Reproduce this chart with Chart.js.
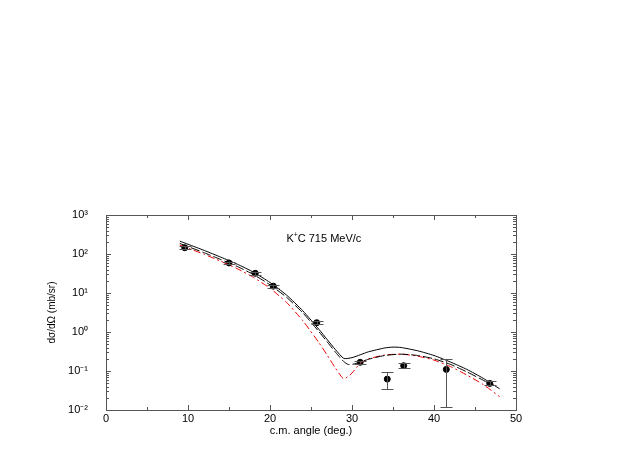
<!DOCTYPE html>
<html lang="en">
  <head>
    <meta charset="UTF-8" />
    <title>K+C 715 MeV/c</title>
    <script src="https://cdn.jsdelivr.net/npm/chart.js"></script>
    <style>
      body { margin: 0; background: #ffffff; }
      .wrap { position: relative; width: 623px; height: 463px; }
    </style>
  </head>
  <body>
    <div class="wrap"><canvas id="xsec"></canvas></div>
    <script>
      // measured points
      const dataAngle = [9.6, 15.0, 18.2, 20.4, 25.7, 31.0, 34.3, 36.3, 41.5, 46.8];
      const dataValue = [145, 59, 32, 15, 1.73, 0.167, 0.062, 0.137, 0.11, 0.048];
      const dataLow = [132, 54, 29, 13.6, 1.57, 0.155, 0.034, 0.117, 0.0117, 0.043];
      const dataHigh = [158, 64, 35, 16.5, 1.9, 0.18, 0.093, 0.158, 0.204, 0.054];

      // calculations
      const solidAngle = [9, 10, 12, 14, 16, 18, 20, 22, 24, 26, 27, 28, 29, 30, 31, 32, 34, 35, 36, 38, 40, 42, 44, 46, 48];
      const solidValue = [214, 178, 123, 83, 55, 34, 18.6, 8.9, 3.5, 1.15, 0.63, 0.35, 0.21, 0.22, 0.26, 0.31, 0.39, 0.41, 0.4, 0.33, 0.25, 0.17, 0.11, 0.065, 0.035];

      const dashAngle = [9, 10, 12, 14, 16, 18, 20, 22, 24, 26, 27, 28, 29, 29.5, 30, 31, 32, 34, 36, 38, 40, 42, 44, 46, 47];
      const dashValue = [186, 155, 107, 72, 48, 29.5, 16.2, 7.8, 3.1, 1.0, 0.55, 0.3, 0.174, 0.148, 0.148, 0.166, 0.2, 0.25, 0.27, 0.25, 0.205, 0.148, 0.095, 0.058, 0.045];

      const redAngle = [9, 10, 12, 14, 16, 18, 20, 22, 24, 26, 27, 28, 29, 30, 31, 32, 34, 36, 38, 40, 42, 44, 46, 48];
      const redValue = [170, 141, 98, 65, 42, 25, 13.2, 5.8, 1.95, 0.52, 0.25, 0.117, 0.063, 0.089, 0.158, 0.204, 0.257, 0.27, 0.24, 0.19, 0.13, 0.079, 0.045, 0.022];

      const yTickValues = [0.01, 0.1, 1, 10, 100, 1000];
      const yTickLabels = ["10\u207B\u00B2", "10\u207B\u00B9", "10\u2070", "10\u00B9", "10\u00B2", "10\u00B3"];
      const xTickValues = [0, 10, 20, 30, 40, 50];

      const pts = (xs, ys) => xs.map((x, i) => ({ x: x, y: ys[i] }));
      const FONT = "'Liberation Sans', Arial, sans-serif";

      // frame, inward ticks, error bars, label
      const decorations = {
        id: "decorations",
        afterDatasetsDraw(chart) {
          const ctx = chart.ctx;
          const a = chart.chartArea;
          const xs = chart.scales.x;
          const ys = chart.scales.y;
          ctx.save();
          ctx.strokeStyle = "#555555";
          ctx.lineWidth = 1;
          ctx.strokeRect(a.left + 0.5, a.top + 0.5, a.right - a.left, a.bottom - a.top);

          ctx.beginPath();
          for (let v = 0; v <= 50; v += 5) {
            const px = Math.round(xs.getPixelForValue(v)) + 0.5;
            const len = v % 10 === 0 ? 5 : 3;
            ctx.moveTo(px, a.bottom);
            ctx.lineTo(px, a.bottom - len);
            ctx.moveTo(px, a.top);
            ctx.lineTo(px, a.top + len);
          }
          for (let d = -2; d <= 2; d++) {
            for (let m = 1; m <= 9; m++) {
              const py = Math.round(ys.getPixelForValue(m * Math.pow(10, d))) + 0.5;
              const len = m === 1 ? 5 : 3;
              ctx.moveTo(a.left, py);
              ctx.lineTo(a.left + len, py);
              ctx.moveTo(a.right, py);
              ctx.lineTo(a.right - len, py);
            }
          }
          ctx.stroke();

          ctx.strokeStyle = "#555555";
          ctx.beginPath();
          dataAngle.forEach((ang, i) => {
            const px = Math.round(xs.getPixelForValue(ang)) + 0.5;
            const lo = ys.getPixelForValue(dataLow[i]);
            const hi = ys.getPixelForValue(dataHigh[i]);
            ctx.moveTo(px, lo);
            ctx.lineTo(px, hi);
            ctx.moveTo(px - 6, Math.round(lo) + 0.5);
            ctx.lineTo(px + 6, Math.round(lo) + 0.5);
            ctx.moveTo(px - 6, Math.round(hi) + 0.5);
            ctx.lineTo(px + 6, Math.round(hi) + 0.5);
          });
          ctx.stroke();

          ctx.fillStyle = "#000000";
          ctx.font = "11px " + FONT;
          ctx.textBaseline = "middle";
          const lx = xs.getPixelForValue(22.0);
          const ly = ys.getPixelForValue(240);
          ctx.fillText("K", lx, ly);
          const kw = ctx.measureText("K").width;
          ctx.font = "7px " + FONT;
          ctx.fillText("+", lx + kw, ly - 4);
          ctx.font = "11px " + FONT;
          ctx.fillText("C 715 MeV/c", lx + kw + 4, ly);
          ctx.restore();
        },
      };

      new Chart(document.getElementById("xsec"), {
        type: "scatter",
        data: {
          datasets: [
            {
              label: "solid",
              type: "line",
              data: pts(solidAngle, solidValue),
              borderColor: "#000000",
              borderWidth: 1,
              pointRadius: 0,
              tension: 0.2,
            },
            {
              label: "dashed",
              type: "line",
              data: pts(dashAngle, dashValue),
              borderColor: "#000000",
              borderWidth: 1,
              borderDash: [9, 3],
              pointRadius: 0,
              tension: 0.2,
            },
            {
              label: "dash-dot",
              type: "line",
              data: pts(redAngle, redValue),
              borderColor: "#ee0000",
              borderWidth: 1,
              borderDash: [7, 3, 2, 3],
              pointRadius: 0,
              tension: 0.2,
            },
            {
              label: "data",
              data: pts(dataAngle, dataValue),
              backgroundColor: "#000000",
              borderColor: "#000000",
              pointRadius: 3,
            },
          ],
        },
        options: {
          responsive: true,
          maintainAspectRatio: false,
          animation: false,
          events: [],
          layout: { padding: { left: 46, right: 107, top: 215, bottom: 25 } },
          plugins: { legend: { display: false }, tooltip: { enabled: false } },
          scales: {
            x: {
              type: "linear",
              min: 0,
              max: 50,
              afterFit(scale) { scale.height = 28; },
              afterBuildTicks(scale) { scale.ticks = xTickValues.map((v) => ({ value: v })); },
              grid: { display: false, drawTicks: false },
              border: { display: false },
              ticks: {
                color: "#000000",
                padding: 2,
                maxRotation: 0,
                font: { family: FONT, size: 11 },
              },
              title: {
                display: true,
                text: "c.m. angle (deg.)",
                color: "#000000",
                padding: 0,
                font: { family: FONT, size: 11 },
              },
            },
            y: {
              type: "logarithmic",
              min: 0.01,
              max: 1000,
              afterFit(scale) { scale.width = 60; },
              afterBuildTicks(scale) { scale.ticks = yTickValues.map((v) => ({ value: v })); },
              grid: { display: false, drawTicks: false },
              border: { display: false },
              ticks: {
                color: "#000000",
                padding: 18,
                font: { family: FONT, size: 11 },
                callback: (v) => {
                  const i = yTickValues.indexOf(v);
                  return i >= 0 ? yTickLabels[i] : "";
                },
              },
              title: {
                display: true,
                text: "d\u03C3/d\u03A9 (mb/sr)",
                color: "#000000",
                padding: 0,
                font: { family: FONT, size: 10 },
              },
            },
          },
        },
        plugins: [decorations],
      });
    </script>
  </body>
</html>
